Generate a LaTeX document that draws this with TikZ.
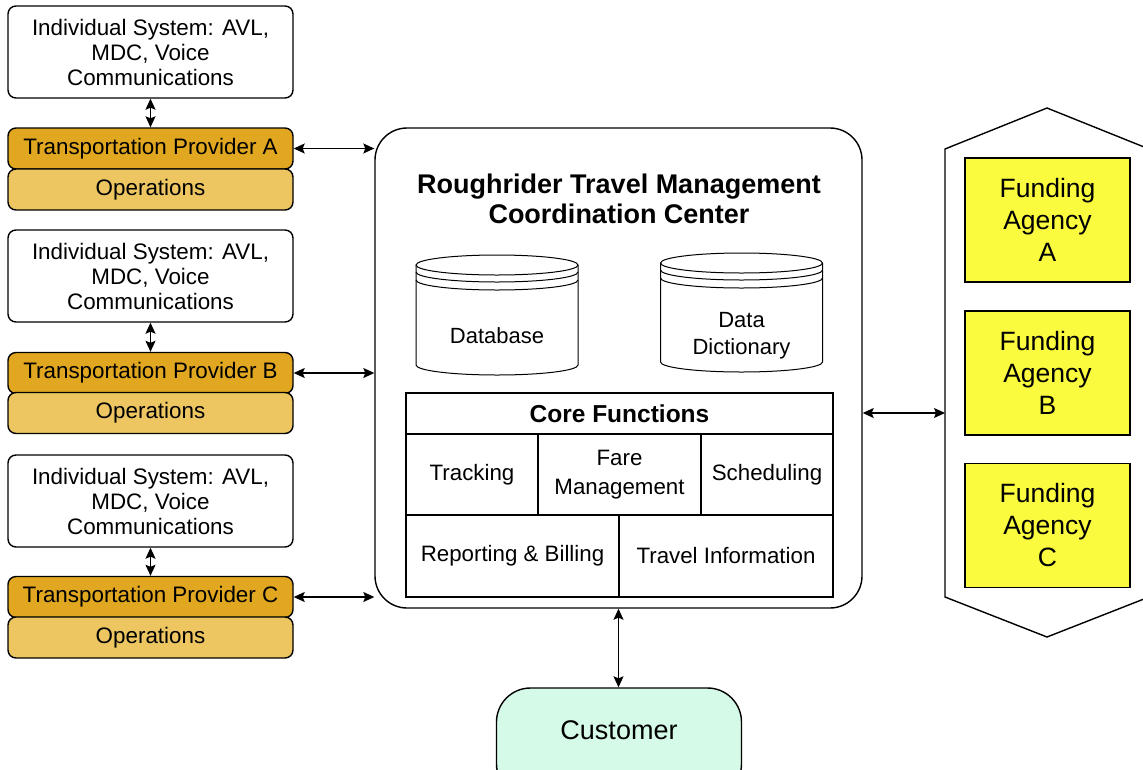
\documentclass[tikz,border=0pt]{standalone}
\usepackage{fontspec}
\setmainfont{Liberation Sans}
\usetikzlibrary{arrows.meta}
\definecolor{provfill}{RGB}{226,167,32}
\definecolor{opsfill}{RGB}{237,198,98}
\definecolor{fundfill}{RGB}{250,250,62}
\definecolor{custfill}{RGB}{214,250,232}
\tikzset{
  >={Stealth[length=11pt,width=10pt,inset=2pt]},
  sys/.style={draw,rounded corners=8pt,fill=white,minimum width=285pt,minimum height=92pt,inner sep=0pt,align=center,font=\fontsize{22.4}{25}\selectfont},
  prov/.style={sys,fill=provfill,minimum height=41pt},
  ops/.style={sys,fill=opsfill,minimum height=41pt},
  centre/.style={draw,rounded corners=32pt,minimum width=487pt,minimum height=480pt},
  ttl/.style={align=center,font=\fontsize{27}{30}\selectfont\bfseries},
  lbl/.style={align=center,font=\fontsize{22}{27}\selectfont},
  cell/.style={draw,inner sep=0pt,align=center,font=\fontsize{22.3}{29}\selectfont},
  fund/.style={draw,fill=fundfill,minimum width=165pt,minimum height=124pt,inner sep=0pt,align=center,font=\fontsize{26.5}{32}\selectfont},
  cust/.style={draw,fill=custfill,rounded corners=34pt,minimum width=245pt,minimum height=110pt,inner sep=0pt,font=\fontsize{27}{31}\selectfont},
  link/.style={<->,line width=1.2pt},
}
\begin{document}
\begin{tikzpicture}[x=1pt,y=-1pt,line width=1.4pt]
\useasboundingbox (0,0) rectangle (1143,769);
% providers
\node[sys] (sysA) at (150.5,52) {Individual System: AVL,\\MDC, Voice\\Communications};
\node[prov] (provA) at (150.5,148.5) {Transportation Provider A};
\node[ops] (opsA) at (150.5,189.5) {Operations};
\node[sys] (sysB) at (150.5,276) {Individual System: AVL,\\MDC, Voice\\Communications};
\node[prov] (provB) at (150.5,373) {Transportation Provider B};
\node[ops] (opsB) at (150.5,413) {Operations};
\node[sys] (sysC) at (150.5,501) {Individual System: AVL,\\MDC, Voice\\Communications};
\node[prov] (provC) at (150.5,597) {Transportation Provider C};
\node[ops] (opsC) at (150.5,637.5) {Operations};
% coordination center
\node[centre] (ctr) at (618.5,368) {};
\node[ttl] (title) at (619,199) {Roughrider Travel Management\\Coordination Center};
\draw[line width=1pt] (497,265) ellipse [x radius=81pt,y radius=10pt];
\draw[line width=1pt] (416,272) arc[start angle=180,end angle=360,x radius=81pt,y radius=10pt];
\draw[line width=1pt] (416,280) arc[start angle=180,end angle=360,x radius=81pt,y radius=10pt];
\draw[line width=1pt] (416,265) -- (416,365) arc[start angle=180,end angle=360,x radius=81pt,y radius=10pt] -- (578,265);
\node[lbl] (db) at (497,336) {Database};
\draw[line width=1pt] (741.5,263) ellipse [x radius=81pt,y radius=10pt];
\draw[line width=1pt] (660.5,270) arc[start angle=180,end angle=360,x radius=81pt,y radius=10pt];
\draw[line width=1pt] (660.5,278) arc[start angle=180,end angle=360,x radius=81pt,y radius=10pt];
\draw[line width=1pt] (660.5,263) -- (660.5,362) arc[start angle=180,end angle=360,x radius=81pt,y radius=10pt] -- (822.5,263);
\node[lbl] (dd) at (741.5,336) {Data\\Dictionary};
% core functions
\node[cell,minimum width=427pt,minimum height=41pt,font=\fontsize{24.5}{28}\selectfont\bfseries] (core) at (619.5,413.5) {Core Functions};
\node[cell,minimum width=132pt,minimum height=81pt] (track) at (472,474.5) {Tracking};
\node[cell,minimum width=163pt,minimum height=81pt] (fare) at (619.5,474.5) {Fare\\Management};
\node[cell,minimum width=132pt,minimum height=81pt] (sched) at (767,474.5) {Scheduling};
\node[cell,minimum width=213pt,minimum height=82pt] (report) at (512.5,556) {Reporting \& Billing};
\node[cell,minimum width=214pt,minimum height=82pt] (travel) at (726,556) {Travel Information};
% funding agencies
\draw (1047,108) -- (1149,149) -- (1149,597) -- (1047,637) -- (945,597) -- (945,149) -- cycle;
\coordinate (hex) at (945,413);
\node[fund] (fundA) at (1047.5,220) {Funding\\Agency\\A};
\node[fund] (fundB) at (1047.5,373) {Funding\\Agency\\B};
\node[fund] (fundC) at (1047.5,525.5) {Funding\\Agency\\C};
% customer
\node[cust] (cust) at (619,743) {\raisebox{4pt}[0pt][0pt]{Customer}};
% links
\draw[link] (sysA) -- (provA); \draw[link] (sysB) -- (provB); \draw[link] (sysC) -- (provC);
\draw[link] (provA.east) -- (ctr.west |- provA.east);
\draw[link] (provB.east) -- (ctr.west |- provB.east);
\draw[link] (provC.east) -- (ctr.west |- provC.east);
\draw[link] (ctr.east |- hex) -- (hex);
\draw[link] (ctr.south) -- (ctr.south |- cust.north);
\end{tikzpicture}
\end{document}
